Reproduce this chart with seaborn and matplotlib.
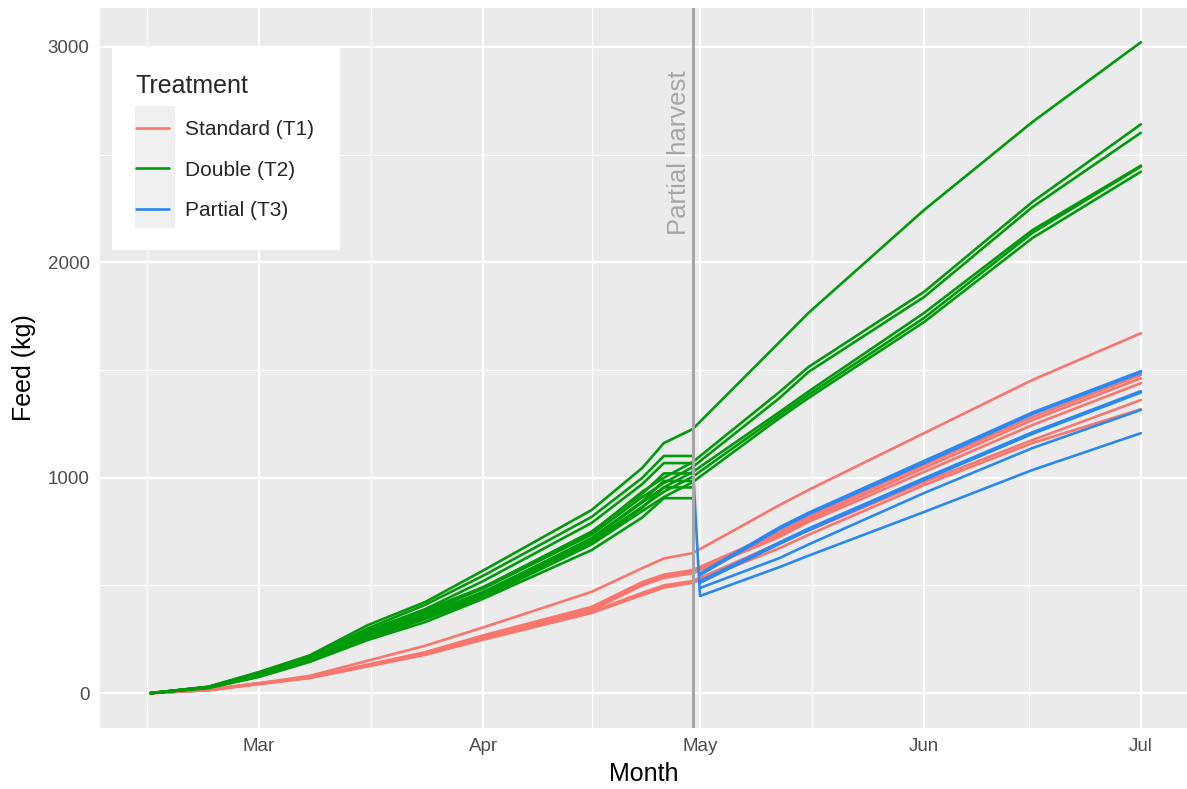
import pandas as pd
import matplotlib
matplotlib.use("Agg")
import matplotlib.pyplot as plt
import matplotlib.dates as mdates
from matplotlib.lines import Line2D
from matplotlib.patches import Rectangle
from matplotlib.ticker import FixedLocator
import seaborn as sns

# sampling dates
full_dates = ["2019-02-14", "2019-02-22", "2019-03-01", "2019-03-08", "2019-03-16",
              "2019-03-24", "2019-04-01", "2019-04-16", "2019-04-23", "2019-04-26",
              "2019-04-30", "2019-05-12", "2019-05-16", "2019-06-01", "2019-06-16",
              "2019-07-01"]
pre_dates = full_dates[:11]
post_dates = ["2019-05-01", "2019-05-12", "2019-05-16", "2019-06-01", "2019-06-16", "2019-07-01"]

# Standard (T1) cages, cumulative feed (kg)
t1 = {
    "T1-1": [0, 18, 46, 80, 150, 220, 305, 470, 580, 625, 650, 873, 943, 1207, 1454, 1671],
    "T1-2": [0, 15, 46, 74, 132, 190, 268, 400, 515, 550, 571, 748, 818, 1059, 1282, 1477],
    "T1-3": [0, 15, 45, 73, 130, 186, 263, 392, 508, 543, 564, 737, 806, 1045, 1268, 1462],
    "T1-4": [0, 14, 44, 72, 128, 183, 258, 385, 500, 535, 557, 725, 795, 1027, 1245, 1439],
    "T1-5": [0, 14, 43, 71, 126, 180, 252, 378, 465, 500, 520, 697, 755, 980, 1175, 1361],
    "T1-6": [0, 13, 42, 70, 124, 178, 248, 372, 455, 490, 512, 673, 735, 966, 1161, 1318],
}
# Double (T2) cages
t2 = {
    "T2-1": [0, 30, 98, 175, 315, 423, 569, 850, 1045, 1161, 1226, 1630, 1765, 2243, 2652, 3022],
    "T2-2": [0, 28, 90, 160, 285, 385, 492, 745, 935, 1000, 1073, 1398, 1514, 1863, 2281, 2641],
    "T2-3": [0, 27, 88, 158, 280, 378, 485, 735, 910, 975, 1050, 1370, 1491, 1839, 2257, 2602],
    "T2-4": [0, 26, 85, 155, 270, 365, 470, 715, 885, 955, 1027, 1305, 1400, 1765, 2150, 2449],
    "T2-5": [0, 26, 82, 150, 262, 355, 460, 705, 865, 935, 1005, 1291, 1385, 1742, 2137, 2445],
    "T2-6": [0, 25, 78, 147, 252, 345, 445, 690, 845, 910, 980, 1277, 1370, 1723, 2113, 2421],
}
# Partial (T3) cages before the harvest (fed as double)
t3_pre = {
    "T3-1": [0, 29, 95, 168, 300, 410, 545, 818, 999, 1101, 1101],
    "T3-2": [0, 28, 92, 162, 290, 390, 520, 790, 970, 1068, 1068],
    "T3-3": [0, 27, 86, 155, 275, 370, 490, 750, 925, 1020, 1020],
    "T3-4": [0, 26, 82, 152, 262, 355, 465, 720, 890, 985, 985],
    "T3-5": [0, 25, 78, 150, 255, 345, 450, 695, 860, 955, 955],
    "T3-6": [0, 24, 75, 145, 246, 330, 438, 664, 815, 905, 905],
}
# Partial (T3) cages after the harvest
t3_post = {
    "T3-1": [555, 770, 837, 1078, 1303, 1495],
    "T3-3": [548, 762, 830, 1068, 1296, 1488],
    "T3-4": [520, 700, 764, 998, 1211, 1402],
    "T3-5": [512, 693, 756, 990, 1204, 1396],
    "T3-6": [488, 627, 690, 929, 1138, 1315],
    "T3-2": [451, 585, 638, 841, 1036, 1207],
}
drop_cage = "T3-2"
drop_date = "2019-04-30"
drop_value = 1068

harvest_date = "2019-04-30"
treatments = ["Standard (T1)", "Double (T2)", "Partial (T3)"]
colors = {"Standard (T1)": "#F8766D", "Double (T2)": "#009A0A", "Partial (T3)": "#2A88F2"}

rows = []
for cage, vals in t1.items():
    rows += [(cage, treatments[0], d, v) for d, v in zip(full_dates, vals)]
for cage, vals in t2.items():
    rows += [(cage, treatments[1], d, v) for d, v in zip(full_dates, vals)]
for cage, vals in t3_pre.items():
    rows += [(cage + " pre", treatments[1], d, v) for d, v in zip(pre_dates, vals)]
for cage, vals in t3_post.items():
    if cage == drop_cage:
        rows.append((cage + " post", treatments[2], drop_date, drop_value))
    rows += [(cage + " post", treatments[2], d, v) for d, v in zip(post_dates, vals)]
df = pd.DataFrame(rows, columns=["cage", "Treatment", "date", "feed"])
df["date"] = pd.to_datetime(df["date"])

sns.set_style("white", {"axes.facecolor": "#EBEBEB"})
plt.rcParams["font.family"] = ["Liberation Sans", "DejaVu Sans"]

W, H = 1187, 789
fig = plt.figure(figsize=(W / 100, H / 100), dpi=100)
ax = fig.add_axes([100 / W, 1 - 728 / H, 1 - 100 / W, 720 / H])

sns.lineplot(data=df, x="date", y="feed", hue="Treatment", units="cage", estimator=None,
             hue_order=["Standard (T1)", "Partial (T3)", "Double (T2)"], palette=colors,
             lw=1.9, legend=False, ax=ax)

hd = pd.Timestamp(harvest_date)
ax.axvline(hd, color="#A6A6A6", lw=2.2, zorder=3)
ax.text(hd - pd.Timedelta(days=1.9), 2510, "Partial harvest", rotation=90, ha="center",
        va="center", color="#A6A6A6", fontsize=18.5)

# axes scales like ggplot
ax.set_xlim(pd.Timestamp("2019-02-07"), pd.Timestamp("2019-07-07 09:00"))
ax.set_ylim(-162, 3181)
ax.xaxis.set_major_locator(mdates.MonthLocator())
ax.xaxis.set_major_formatter(mdates.DateFormatter("%b"))
minor_x = [pd.Timestamp("2019-02-13 12:00"), pd.Timestamp("2019-03-16 12:00"),
           pd.Timestamp("2019-04-16"), pd.Timestamp("2019-05-16 12:00"),
           pd.Timestamp("2019-06-15 12:00")]
ax.xaxis.set_minor_locator(FixedLocator(mdates.date2num(minor_x)))
ax.set_yticks([0, 1000, 2000, 3000])
ax.yaxis.set_minor_locator(FixedLocator([500, 1500, 2500]))
ax.grid(which="major", color="white", lw=1.6)
ax.grid(which="minor", color="white", lw=0.8)
ax.set_axisbelow(True)
for s in ax.spines.values():
    s.set_visible(False)
ax.tick_params(which="major", length=3.5, width=1.1, color="#333333",
               labelcolor="#4D4D4D", labelsize=13.5, pad=4)
ax.tick_params(which="minor", length=0)
ax.set_xlabel("Month", fontsize=18, color="black", labelpad=5)
ax.set_ylabel("Feed (kg)", fontsize=18, color="black", labelpad=8)

# legend box, key background, then legend
ax.add_patch(Rectangle((112 / W, 1 - 250 / H), 228 / W, 203 / H, transform=fig.transFigure,
                       facecolor="white", edgecolor="none", zorder=4, clip_on=False))
ax.add_patch(Rectangle((135 / W, 1 - 228 / H), 40 / W, 122 / H, transform=fig.transFigure,
                       facecolor="#F0F0F0", edgecolor="none", zorder=4.5, clip_on=False))
handles = [Line2D([], [], color=colors[t], lw=1.9) for t in treatments]
leg = ax.legend(handles, treatments, title="Treatment", loc="upper left",
                bbox_to_anchor=(136 / W, 1 - 74 / H), bbox_transform=fig.transFigure,
                frameon=False, fontsize=15, title_fontsize=18, alignment="left",
                handlelength=1.6, handletextpad=0.75, labelspacing=1.03,
                borderpad=0, borderaxespad=0)
leg._legend_box.sep = 16
leg.set_zorder(6)

fig.savefig("out.png", dpi=100)
